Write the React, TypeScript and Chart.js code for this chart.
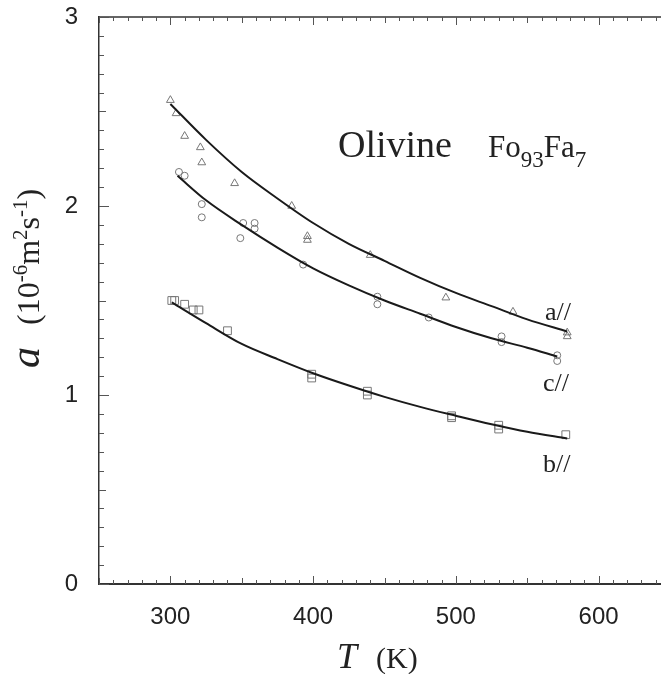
import React, { useEffect, useRef } from "react";
import { Chart, registerables } from "chart.js";
Chart.register(...registerables);

const X_MIN = 250;
const X_MAX = 650;
const Y_MIN = 0;
const Y_MAX = 3;
const xTickLabels = [300, 400, 500, 600];
const yTickLabels = [0, 1, 2, 3];

// a// direction (triangles)
const aMarkT = [300, 304, 310, 321, 322, 345, 385, 396, 396, 440, 493, 540, 578, 578];
const aMarkV = [2.56, 2.49, 2.37, 2.31, 2.23, 2.12, 2.0, 1.84, 1.82, 1.74, 1.515, 1.44, 1.31, 1.33];
// c// direction (circles)
const cMarkT = [306, 310, 322, 322, 349, 351, 359, 359, 393, 445, 445, 481, 532, 532, 571, 571];
const cMarkV = [2.18, 2.16, 2.01, 1.94, 1.83, 1.91, 1.88, 1.91, 1.69, 1.52, 1.48, 1.41, 1.31, 1.28, 1.21, 1.18];
// b// direction (squares)
const bMarkT = [301, 303, 310, 316, 320, 340, 399, 399, 438, 438, 497, 497, 530, 530, 577];
const bMarkV = [1.5, 1.5, 1.48, 1.45, 1.45, 1.34, 1.11, 1.09, 1.02, 1.0, 0.89, 0.88, 0.84, 0.82, 0.79];

// fitted curves
const aCurveT = [300, 325, 350, 375, 400, 425, 450, 475, 500, 525, 550, 578];
const aCurveV = [2.54, 2.35, 2.18, 2.04, 1.91, 1.8, 1.71, 1.62, 1.54, 1.47, 1.4, 1.336];
const cCurveT = [305, 325, 350, 375, 400, 425, 450, 475, 500, 525, 550, 571];
const cCurveV = [2.16, 2.03, 1.9, 1.78, 1.67, 1.58, 1.5, 1.43, 1.36, 1.3, 1.25, 1.204];
const bCurveT = [301, 325, 350, 375, 400, 425, 450, 475, 500, 525, 550, 578];
const bCurveV = [1.49, 1.38, 1.27, 1.19, 1.115, 1.05, 0.99, 0.937, 0.89, 0.845, 0.805, 0.77];

const pts = (t: number[], v: number[]) => t.map((x, i) => ({ x, y: v[i] }));

const TXT = "#222";
const SERIF = "'Liberation Serif', 'Times New Roman', serif";
const SANS = "'Liberation Sans', Arial, sans-serif";

const decor = {
  id: "decor",
  afterDraw(chart: any) {
    const { ctx, chartArea: ca, scales } = chart;
    const xs = scales.x;
    const ys = scales.y;
    ctx.save();
    // top border
    ctx.strokeStyle = "#333";
    ctx.lineWidth = 1.5;
    ctx.beginPath();
    ctx.moveTo(ca.left, ca.top);
    ctx.lineTo(ca.right, ca.top);
    ctx.stroke();
    // inward ticks
    ctx.lineWidth = 1;
    ctx.strokeStyle = "#555";
    for (let v = X_MIN; v <= X_MAX; v += 10) {
      const px = Math.round(xs.getPixelForValue(v)) + 0.5;
      const len = v % 100 === 0 ? 8 : v % 50 === 0 ? 6 : 4;
      ctx.beginPath();
      ctx.moveTo(px, ca.bottom);
      ctx.lineTo(px, ca.bottom - len);
      ctx.moveTo(px, ca.top);
      ctx.lineTo(px, ca.top + len);
      ctx.stroke();
    }
    for (let i = 0; i <= 30; i++) {
      const v = i / 10;
      const py = Math.round(ys.getPixelForValue(v)) + 0.5;
      const len = i % 10 === 0 ? 10 : i % 5 === 0 ? 7 : 5;
      ctx.beginPath();
      ctx.moveTo(ca.left, py);
      ctx.lineTo(ca.left + len, py);
      ctx.stroke();
    }
    ctx.fillStyle = TXT;
    ctx.textBaseline = "alphabetic";
    ctx.textAlign = "left";
    // x title
    ctx.font = `italic 36px ${SERIF}`;
    ctx.fillText("T", 337, 668);
    ctx.font = `30px ${SERIF}`;
    ctx.fillText("(K)", 376, 668);
    // y title rotated
    ctx.save();
    ctx.translate(39, 0);
    ctx.rotate(-Math.PI / 2);
    let x = -368;
    ctx.font = `italic 42px ${SERIF}`;
    ctx.fillText("a", x, 0);
    x = -325;
    const main = `32px ${SERIF}`;
    const sup = `21px ${SERIF}`;
    const seg = (s: string, f: string, dy: number) => {
      ctx.font = f;
      ctx.fillText(s, x, dy);
      x += ctx.measureText(s).width;
    };
    seg("(10", main, 0);
    seg("-6", sup, -12);
    seg("m", main, 0);
    seg("2", sup, -12);
    seg("s", main, 0);
    seg("-1", sup, -12);
    seg(")", main, 0);
    ctx.restore();
    // annotation
    ctx.font = `38px ${SERIF}`;
    ctx.fillText("Olivine", 338, 157);
    let ax = 488;
    const put = (s: string, f: string, dy: number) => {
      ctx.font = f;
      ctx.fillText(s, ax, 157 + dy);
      ax += ctx.measureText(s).width;
    };
    put("Fo", `31px ${SERIF}`, 0);
    put("93", `23px ${SERIF}`, 10);
    put("Fa", `31px ${SERIF}`, 0);
    put("7", `23px ${SERIF}`, 10);
    ctx.font = `26px ${SERIF}`;
    ctx.fillText("a//", 545, 320);
    ctx.fillText("c//", 543, 391);
    ctx.fillText("b//", 543, 472);
    ctx.restore();
  },
};

export default function App() {
  const ref = useRef<HTMLCanvasElement | null>(null);
  useEffect(() => {
    if (!ref.current) return;
    const markerDs = (label: string, t: number[], v: number[], style: string, r: number) => ({
      label,
      data: pts(t, v),
      showLine: false,
      pointStyle: style,
      pointRadius: r,
      pointBorderColor: "#777",
      pointBackgroundColor: "rgba(255,255,255,0)",
      pointBorderWidth: 1,
    });
    const curveDs = (label: string, t: number[], v: number[]) => ({
      label,
      data: pts(t, v),
      showLine: true,
      borderColor: "#1a1a1a",
      borderWidth: 2,
      pointRadius: 0,
      cubicInterpolationMode: "monotone",
      fill: false,
    });
    const chart = new Chart(ref.current, {
      type: "scatter",
      data: {
        datasets: [
          curveDs("a// fit", aCurveT, aCurveV),
          curveDs("c// fit", cCurveT, cCurveV),
          curveDs("b// fit", bCurveT, bCurveV),
          markerDs("a//", aMarkT, aMarkV, "triangle", 4.5),
          markerDs("c//", cMarkT, cMarkV, "circle", 3.5),
          markerDs("b//", bMarkT, bMarkV, "rect", 5.5),
        ] as any,
      },
      options: {
        animation: false,
        responsive: false,
        layout: { padding: { top: 17, right: 20, left: 0, bottom: 0 } },
        plugins: { legend: { display: false }, tooltip: { enabled: false } },
        scales: {
          x: {
            type: "linear",
            min: X_MIN,
            max: X_MAX,
            grid: { display: false, drawTicks: false },
            border: { display: true, color: "#333", width: 2 },
            afterFit: (s: any) => {
              s.height = 90;
              s.paddingLeft = 0;
              s.paddingRight = 0;
            },
            afterBuildTicks: (s: any) => {
              s.ticks = xTickLabels.map((v) => ({ value: v }));
            },
            ticks: {
              autoSkip: false,
              maxRotation: 0,
              padding: 19,
              color: TXT,
              font: { family: SANS, size: 24 },
              callback: (v: any) => String(v),
            },
          },
          y: {
            type: "linear",
            min: Y_MIN,
            max: Y_MAX,
            grid: { display: false, drawTicks: false },
            border: { display: true, color: "#333", width: 1.5 },
            afterFit: (s: any) => {
              s.width = 99;
              s.paddingTop = 0;
              s.paddingBottom = 0;
            },
            afterBuildTicks: (s: any) => {
              s.ticks = yTickLabels.map((v) => ({ value: v }));
            },
            ticks: {
              autoSkip: false,
              padding: 21,
              color: TXT,
              font: { family: SANS, size: 24 },
              callback: (v: any) => String(v),
            },
          },
        },
      },
      plugins: [decor],
    } as any);
    return () => chart.destroy();
  }, []);
  return (
    <div style={{ position: "absolute", left: 0, top: 0, width: 661, height: 674, overflow: "hidden", background: "#fff" }}>
      <canvas ref={ref} width={690} height={674} style={{ display: "block" }} />
    </div>
  );
}
